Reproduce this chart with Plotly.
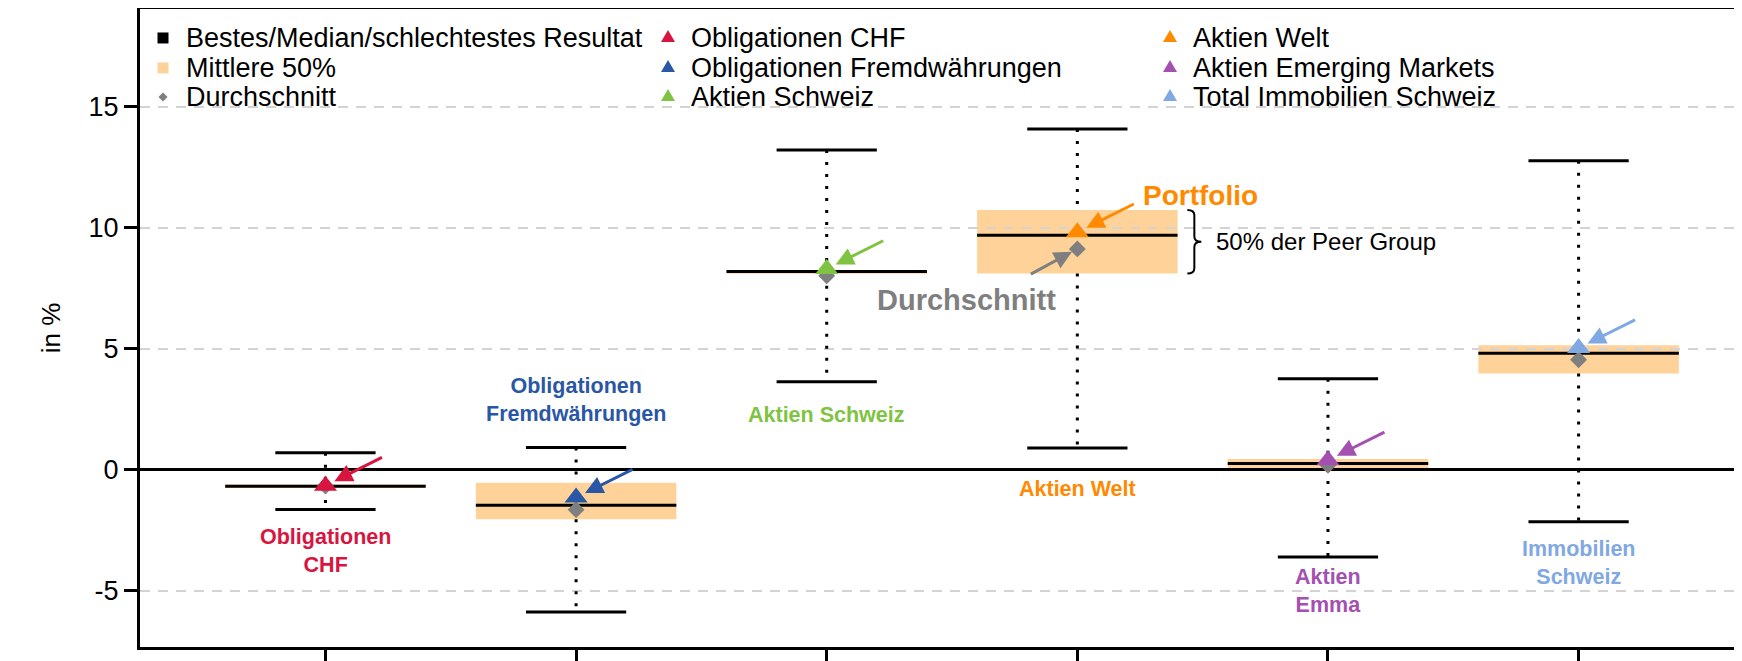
import plotly.graph_objects as go

# ---------------- data ----------------
categories = ["Obligationen CHF", "Obligationen Fremdwährungen", "Aktien Schweiz",
              "Aktien Welt", "Aktien Emerging Markets", "Total Immobilien Schweiz"]
short_labels = ["Obligationen<br>CHF", "Obligationen<br>Fremdwährungen", "Aktien Schweiz",
                "Aktien Welt", "Aktien<br>Emma", "Immobilien<br>Schweiz"]
best = [0.70, 0.92, 13.22, 14.09, 3.76, 12.78]
worst = [-1.64, -5.88, 3.64, 0.90, -3.61, -2.15]
median = [-0.68, -1.47, 8.20, 9.70, 0.26, 4.82]
q3 = [-0.61, -0.54, 8.26, 10.74, 0.44, 5.15]
q1 = [-0.76, -2.05, 8.10, 8.11, 0.03, 3.98]
mean = [-0.67, -1.65, 8.02, 9.13, 0.18, 4.55]
portfolio = [-0.66, -1.15, 8.30, 9.82, 0.39, 5.03]
ytick_vals = [-5, 0, 5, 10, 15]
ytick_text = ["-5", "0", "5", "10", "15"]
legend_names = ["Bestes/Median/schlechtestes Resultat", "Mittlere 50%", "Durchschnitt"]

# ---------------- styles ----------------
colors = ["#D7153F", "#2A57A5", "#80C342", "#FF8A00", "#A450B0", "#80A8E3"]
box_color = "#FFD299"
mean_color = "#7F7F7F"
FONT = "Liberation Sans, Arial, sans-serif"
label_y = [-3.37, 2.9, 2.27, -0.78, -5.0, -3.87]
BOX_HALF = 0.4
WHISK_HALF = 0.2

# the page body adds an 8px offset, so the figure is sized to fill the rest of the window
OFF = 8
W, H = 1742 - OFF, 661 - OFF
ML, MR, MT, MB = 132, 0, 1, 13.5
PW, PH = W - ML - MR, H - MT - MB

pos = list(range(1, len(categories) + 1))

fig = go.Figure()

# boxes (below gridlines)
for i, x in enumerate(pos):
    fig.add_shape(type="rect", xref="x", yref="y", x0=x - BOX_HALF, x1=x + BOX_HALF,
                  y0=q1[i], y1=q3[i], fillcolor=box_color, line_width=0, layer="below")

# dotted range lines outside the box
dx, dy = [], []
for i, x in enumerate(pos):
    dx += [x, x, None, x, x, None]
    dy += [best[i], q3[i], None, q1[i], worst[i], None]
fig.add_trace(go.Scatter(x=dx, y=dy, mode="lines", showlegend=False, hoverinfo="skip",
                         line=dict(color="black", width=3, dash="3px,9px")))

# median lines
mx, my = [], []
for i, x in enumerate(pos):
    mx += [x - BOX_HALF, x + BOX_HALF, None]
    my += [median[i], median[i], None]
fig.add_trace(go.Scatter(x=mx, y=my, mode="lines", name="Median", showlegend=False,
                         line=dict(color="black", width=3)))

# best / worst whiskers
wx, wy = [], []
for i, x in enumerate(pos):
    wx += [x - WHISK_HALF, x + WHISK_HALF, None, x - WHISK_HALF, x + WHISK_HALF, None]
    wy += [best[i], best[i], None, worst[i], worst[i], None]
fig.add_trace(go.Scatter(x=wx, y=wy, mode="lines", name=legend_names[0], showlegend=False,
                         line=dict(color="black", width=3)))

# mean diamonds
fig.add_trace(go.Scatter(x=pos, y=mean, mode="markers", name=legend_names[2], showlegend=False,
                         marker=dict(symbol="diamond", size=13, color=mean_color)))

# portfolio triangles
for i, x in enumerate(pos):
    fig.add_trace(go.Scatter(x=[x], y=[portfolio[i]], mode="markers", name=categories[i],
                             showlegend=False,
                             marker=dict(symbol="triangle-up", size=20, color=colors[i])))

# ---------------- legend (3 columns, drawn as text + pixel-sized symbols) ----------------
LEG_COLS = [163, 668, 1170]   # window pixels
LEG_ROWS = [38, 68, 97]
TEXT_GAP = 21
SQ = "M -5.5,-5.5 H 5.5 V 5.5 H -5.5 Z"
TRI = "M -7,-4 L 7,-4 L 0,8 Z"
DIA = "M -4.5,0 L 0,4.5 L 4.5,0 L 0,-4.5 Z"
legend_items = [
    (legend_names[0], SQ, "black"),
    (legend_names[1], SQ, box_color),
    (legend_names[2], DIA, mean_color),
    (categories[0], TRI, colors[0]),
    (categories[1], TRI, colors[1]),
    (categories[2], TRI, colors[2]),
    (categories[3], TRI, colors[3]),
    (categories[4], TRI, colors[4]),
    (categories[5], TRI, colors[5]),
]
for k, (name, path, col) in enumerate(legend_items):
    cx, cy = LEG_COLS[k // 3] - OFF, LEG_ROWS[k % 3] - OFF
    px_ = (cx - ML) / PW
    py_ = (H - MB - cy) / PH
    fig.add_shape(type="path", xref="paper", yref="paper", xsizemode="pixel", ysizemode="pixel",
                  xanchor=px_, yanchor=py_, path=path, fillcolor=col, line_width=0, layer="above")
    fig.add_annotation(xref="paper", yref="paper", x=(cx + TEXT_GAP - ML) / PW, y=py_,
                       text=name, showarrow=False, xanchor="left", yanchor="middle",
                       font=dict(family=FONT, size=27, color="black"))

# category labels
for i, x in enumerate(pos):
    fig.add_annotation(x=x, y=label_y[i], text="<b>" + short_labels[i] + "</b>",
                       showarrow=False, font=dict(family=FONT, size=21.5, color=colors[i]),
                       xanchor="center", yanchor="middle")

# arrows pointing to the portfolio markers
for i, x in enumerate(pos):
    fig.add_annotation(x=x, y=portfolio[i], ax=58, ay=-29, text="", showarrow=True,
                       arrowhead=2, arrowsize=1.2, arrowwidth=3, arrowcolor=colors[i],
                       standoff=10)

w = 3  # Aktien Welt
fig.add_annotation(x=pos[w], y=portfolio[w], text="<b>Portfolio</b>", showarrow=False,
                   xanchor="left", yanchor="middle", xshift=64, yshift=37,
                   font=dict(family=FONT, size=28, color=colors[w]))
fig.add_annotation(x=pos[w], y=mean[w], ax=-48, ay=26, text="", showarrow=True,
                   arrowhead=2, arrowsize=1.2, arrowwidth=3, arrowcolor=mean_color, standoff=6)
fig.add_annotation(x=pos[w], y=mean[w], text="<b>Durchschnitt</b>", showarrow=False,
                   xanchor="right", yanchor="middle", xshift=-19, yshift=-51,
                   font=dict(family=FONT, size=29, color=mean_color))

# brace for 50% of peer group
yt, yb = q3[w], q1[w]
ym = (yt + yb) / 2
c = 0.22
path = (f"M 110,{yt} Q 117,{yt} 117,{yt - c} L 117,{ym + c} Q 117,{ym} 124,{ym} "
        f"Q 117,{ym} 117,{ym - c} L 117,{yb + c} Q 117,{yb} 110,{yb}")
fig.add_shape(type="path", xref="x", yref="y", xsizemode="pixel", xanchor=pos[w],
              path=path, line=dict(color="black", width=2), layer="above")
fig.add_annotation(x=pos[w], y=ym, text="50% der Peer Group", showarrow=False,
                   xanchor="left", yanchor="middle", xshift=137,
                   font=dict(family=FONT, size=24, color="black"))

fig.update_layout(
    width=W, height=H,
    margin=dict(l=ML, r=MR, t=MT, b=MB, autoexpand=False),
    paper_bgcolor="white", plot_bgcolor="white",
    font=dict(family=FONT, color="black"),
    showlegend=False,
    xaxis=dict(range=[0.26, 6.652], tickvals=pos, showticklabels=False, automargin=False,
               ticks="outside", ticklen=16, tickwidth=3, tickcolor="black",
               showline=True, linewidth=3, linecolor="black", mirror=True,
               showgrid=False, zeroline=False),
    yaxis=dict(range=[-7.33, 19.05], tickvals=ytick_vals, ticktext=ytick_text, automargin=False,
               ticks="outside", ticklen=13, tickwidth=3, tickcolor="black",
               showline=True, linewidth=3, linecolor="black", mirror=False,
               showgrid=True, gridcolor="#D3D3D3", gridwidth=1.5, griddash="10px,8px",
               zeroline=True, zerolinecolor="black", zerolinewidth=2.5,
               tickfont=dict(family=FONT, size=27, color="black"),
               title=dict(text="in %", font=dict(family=FONT, size=26, color="black"),
                          standoff=21)),
)

fig.write_html("out.html")
